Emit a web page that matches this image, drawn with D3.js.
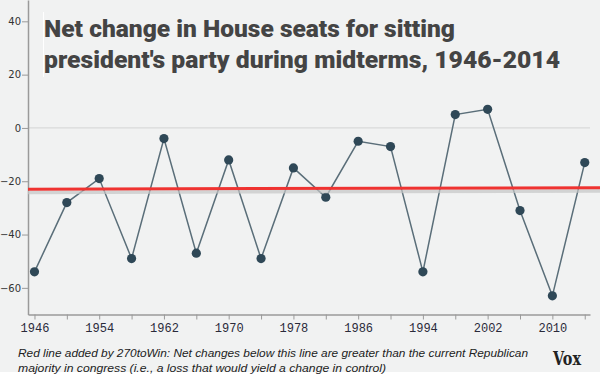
<!DOCTYPE html>
<html><head><meta charset="utf-8">
<script src="https://cdn.jsdelivr.net/npm/d3@7"></script>
<style>
html,body{margin:0;padding:0;background:#fff;}
svg{display:block;}
</style></head>
<body>
<svg id="chart" width="600" height="378"></svg>
<script>
const years = [1946,1950,1954,1958,1962,1966,1970,1974,1978,1982,1986,1990,1994,1998,2002,2006,2010,2014];
const seatChange = [-54,-28,-19,-49,-4,-47,-12,-49,-15,-26,-5,-7,-54,5,7,-31,-63,-13];
const yTicks = [-60,-40,-20,0,20,40];
const xTickYears = [1946,1950,1954,1958,1962,1966,1970,1974,1978,1982,1986,1990,1994,1998,2002,2006,2010,2014];
const xLabelYears = [1946,1954,1962,1970,1978,1986,1994,2002,2010];
const redLine = [-23.0, -22.4];
const titleLines = ["Net change in House seats for sitting","president's party during midterms, 1946-2014"];
const noteLines = ["Red line added by 270toWin: Net changes below this line are greater than the current Republican","majority in congress (i.e., a loss that would yield a change in control)"];

const svg = d3.select("#chart");
svg.append("rect").attr("x",0).attr("y",0).attr("width",600).attr("height",372).attr("fill","#f1f2f2");

const x = d3.scaleLinear().domain([1945.2, 2014.65]).range([28, 590]);
const y = d3.scaleLinear().domain([-70, 48]).range([314.5, 0]);

// zero gridline
svg.append("line").attr("x1",28).attr("x2",590).attr("y1",y(0)).attr("y2",y(0))
  .attr("stroke","#d9dada").attr("stroke-width",1.2);

// y axis
const yAxis = svg.append("g").attr("transform","translate(28,0)")
  .call(d3.axisLeft(y).tickValues(yTicks).tickSize(6).tickSizeOuter(0));
yAxis.select(".domain").attr("stroke","#9a9a9a").attr("stroke-width",1.5);
yAxis.selectAll(".tick line").attr("stroke","#9a9a9a");
yAxis.selectAll(".tick text").attr("font-family","'DejaVu Sans', Verdana, sans-serif").attr("font-size",10)
  .attr("fill","#333").attr("x",-7);

// x axis
const xAxis = svg.append("g").attr("transform",`translate(0,${y(-70)})`)
  .call(d3.axisBottom(x).tickValues(xTickYears).tickSize(5).tickSizeOuter(0)
    .tickFormat(d => xLabelYears.includes(d) ? String(d) : ""));
xAxis.select(".domain").attr("stroke","#9a9a9a").attr("stroke-width",1.5);
xAxis.selectAll(".tick line").attr("stroke","#9a9a9a");
xAxis.selectAll(".tick text").attr("font-family","'Liberation Mono', 'Courier New', monospace").attr("font-size",12)
  .attr("fill","#2a2a3a").attr("y",9);

// line + points
const line = d3.line().x((d,i)=>x(years[i])).y(d=>y(d));
svg.append("path").datum(seatChange).attr("d",line).attr("fill","none")
  .attr("stroke","#5a6e79").attr("stroke-width",1.5);
svg.selectAll("circle.pt").data(seatChange).join("circle").attr("class","pt")
  .attr("cx",(d,i)=>x(years[i])).attr("cy",d=>y(d)).attr("r",4.6).attr("fill","#2f4857");

// red line with shadow
const rx0 = 28, rx1 = 600;
const ry0 = y(redLine[0]), ry1 = y(redLine[1]);
svg.append("polygon")
  .attr("points",`${rx0},${ry0+1.5} ${rx1},${ry1+1.5} ${rx1},${ry1+5} ${rx0},${ry0+5}`)
  .attr("fill","#c4c6c6").attr("opacity",0.7);
svg.append("line").attr("x1",rx0).attr("x2",rx1).attr("y1",ry0).attr("y2",ry1)
  .attr("stroke","#ef3331").attr("stroke-width",3);

// title
svg.append("line").attr("x1",43.5).attr("x2",43.5).attr("y1",12).attr("y2",77).attr("stroke","#ffffff").attr("stroke-width",1);
const titleWidths = [411, 516];
const title = svg.append("text").attr("font-family","Roboto, 'Open Sans', sans-serif").attr("font-weight",900)
  .attr("font-size",23).attr("fill","#444444");
titleLines.forEach((t,i)=>title.append("tspan").attr("x",44).attr("y",37+i*31)
  .attr("textLength",titleWidths[i]).attr("lengthAdjust","spacingAndGlyphs").text(t));

// note
const noteWidths = [510, 368];
const note = svg.append("text").attr("font-family","'Liberation Sans', Arial, sans-serif").attr("font-style","italic")
  .attr("font-size",11.5).attr("fill","#222");
noteLines.forEach((t,i)=>note.append("tspan").attr("x",18).attr("y",356.5+i*15)
  .attr("textLength",noteWidths[i]).attr("lengthAdjust","spacingAndGlyphs").text(t));

// Vox logo
svg.append("text").attr("x",553).attr("y",365).attr("font-family","'DejaVu Serif', serif").attr("font-weight",700)
  .attr("font-size",18).attr("fill","#222").attr("textLength",28).attr("lengthAdjust","spacingAndGlyphs").text("Vox");
</script>
</body></html>
